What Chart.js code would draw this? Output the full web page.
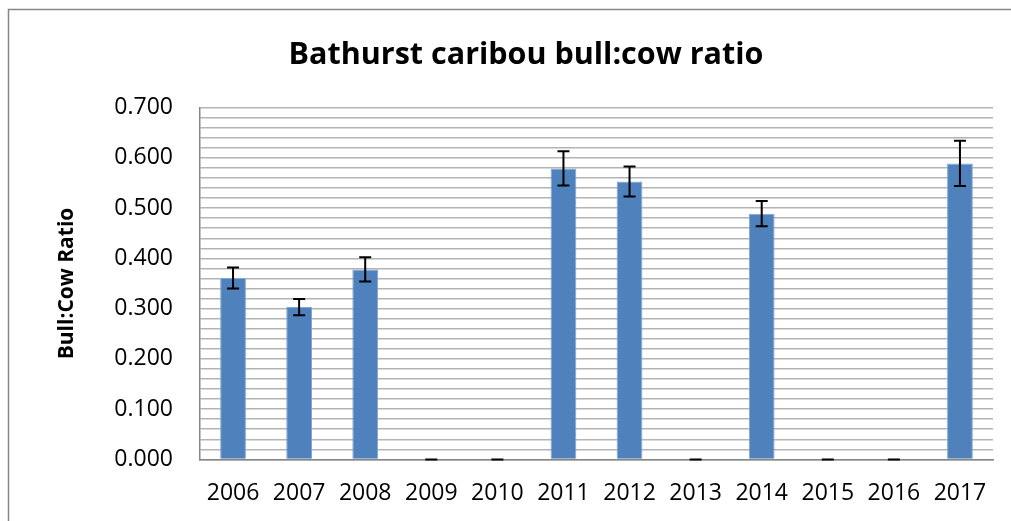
<!DOCTYPE html>
<html>
<head>
<meta charset="utf-8">
<script src="https://cdn.jsdelivr.net/npm/chart.js@4"></script>
<style>
  html, body { margin: 0; padding: 0; background: #fff; overflow: hidden; }
  #wrap { position: relative; width: 1011px; height: 521px; }
  canvas { display: block; }
</style>
</head>
<body>
<div id="wrap"><canvas id="myChart"></canvas></div>
<script>
const years = ['2006', '2007', '2008', '2009', '2010', '2011', '2012', '2013', '2014', '2015', '2016', '2017'];
const ratios = [0.361, 0.303, 0.378, 0, 0, 0.579, 0.553, 0, 0.489, 0, 0, 0.589];
const errors = [0.021, 0.016, 0.024, 0, 0, 0.034, 0.030, 0, 0.025, 0, 0, 0.045];

// white background + outer frame (left and top edges only show in the picture)
const frame = {
  id: 'frame',
  afterLayout(chart) {
    // the title sits a bit right of the canvas centre
    if (chart.titleBlock) chart.titleBlock.left = 59;
  },
  beforeDraw(chart) {
    const ctx = chart.ctx;
    ctx.save();
    ctx.fillStyle = '#fff';
    ctx.fillRect(0, 0, chart.width, chart.height);
    ctx.strokeStyle = '#868686';
    ctx.lineWidth = 1.5;
    ctx.beginPath();
    ctx.moveTo(8.5, chart.height);
    ctx.lineTo(8.5, 9.5);
    ctx.lineTo(chart.width, 9.5);
    ctx.stroke();
    ctx.restore();
  }
};

// error bars, drawn through the y scale
const errorBars = {
  id: 'errorBars',
  afterDatasetsDraw(chart) {
    const ctx = chart.ctx;
    const y = chart.scales.y;
    const meta = chart.getDatasetMeta(0);
    ctx.save();
    ctx.strokeStyle = '#000';
    ctx.lineWidth = 2;
    meta.data.forEach((bar, i) => {
      const top = y.getPixelForValue(ratios[i] + errors[i]);
      const bot = y.getPixelForValue(ratios[i] - errors[i]);
      const x = bar.x;
      ctx.beginPath();
      ctx.moveTo(x, top); ctx.lineTo(x, bot);
      ctx.moveTo(x - 6, top); ctx.lineTo(x + 6, top);
      ctx.moveTo(x - 6, bot); ctx.lineTo(x + 6, bot);
      ctx.stroke();
    });
    ctx.restore();
  }
};

const ctx = document.getElementById('myChart').getContext('2d');
const chart = new Chart(ctx, {
  type: 'bar',
  data: {
    labels: years,
    datasets: [{
      label: 'Bull:Cow Ratio',
      data: ratios,
      backgroundColor: '#4F81BD',
      borderColor: '#7EA6D8',
      borderWidth: 1,
      barPercentage: 0.39,
      categoryPercentage: 1
    }]
  },
  options: {
    responsive: true,
    maintainAspectRatio: false,
    devicePixelRatio: 1,
    animation: false,
    layout: { padding: { left: 8, right: 18, top: 9, bottom: 14 } },
    plugins: {
      legend: { display: false },
      tooltip: { enabled: false },
      title: {
        display: true,
        text: 'Bathurst caribou bull:cow ratio',
        color: '#000',
        font: { family: 'Open Sans', size: 30.5, weight: 'bold' },
        padding: { top: 28, bottom: 34 }
      }
    },
    scales: {
      x: {
        afterFit(scale) { scale.height = 47.6; },
        grid: { display: false, drawTicks: false },
        border: { display: true, color: '#868686', width: 1.5 },
        ticks: { color: '#000', font: { family: 'Open Sans', size: 23 }, padding: 20, maxRotation: 0 }
      },
      y: {
        min: 0,
        max: 0.7,
        afterFit(scale) { scale.width = 192; },
        grid: { color: '#b4b4b4', lineWidth: 1.5, drawTicks: false },
        border: { display: true, color: '#868686', width: 1.5 },
        title: {
          display: true,
          text: 'Bull:Cow Ratio',
          color: '#000',
          font: { family: 'Open Sans', size: 21, weight: 'bold' },
          padding: { top: 46, bottom: 0 }
        },
        ticks: {
          stepSize: 0.02,
          autoSkip: false,
          padding: 27,
          color: '#000',
          font: { family: 'Open Sans', size: 23 },
          callback(value) {
            const v = Math.round(value * 1000);
            return v % 100 === 0 ? (v / 1000).toFixed(3) : '';
          }
        }
      }
    }
  },
  plugins: [frame, errorBars]
});
</script>
</body>
</html>
